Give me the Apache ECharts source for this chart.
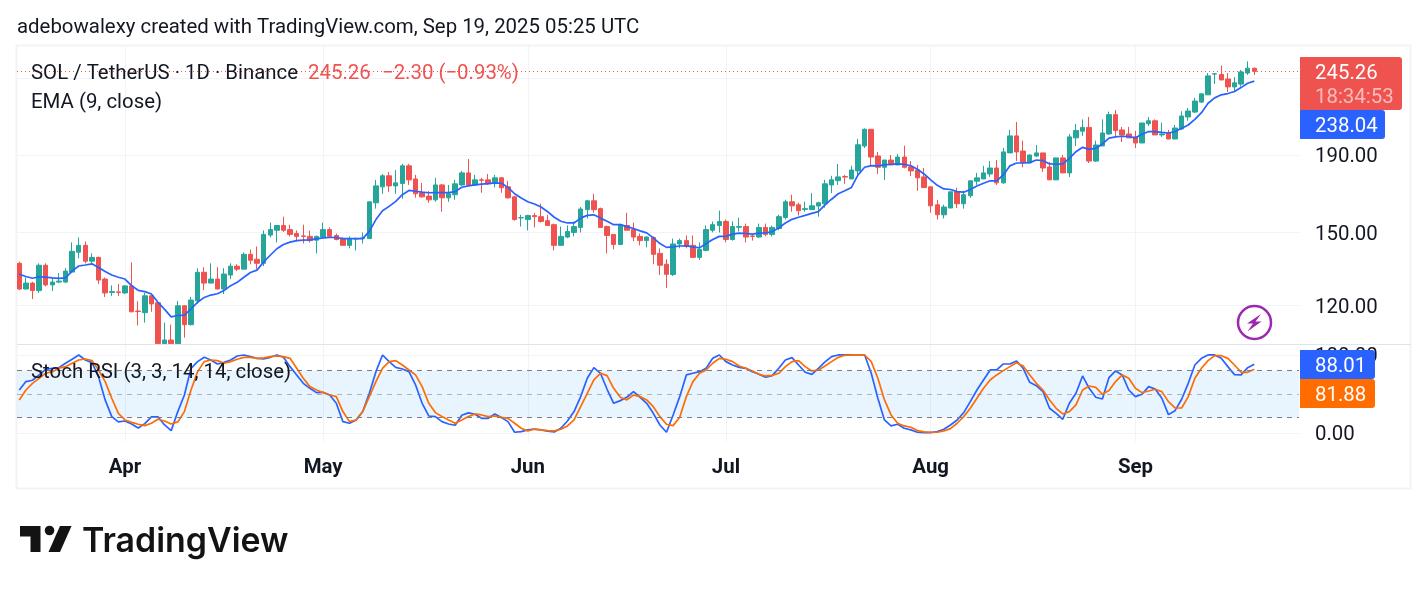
<!DOCTYPE html>
<html>
<head>
<meta charset="utf-8">
<style>html,body{margin:0;padding:0;background:#fff}#chart{width:1428px;height:591px}</style>
<script src="https://cdn.jsdelivr.net/npm/echarts@6/dist/echarts.min.js"></script>
</head>
<body>
<div id="chart"></div>
<script>
// SOL / TetherUS daily candles, 16 Mar 2025 (day 0) to 19 Sep 2025 (day 187)
const opens = [
136.5,126.2,128.5,125.6,135.7,127.8,128.9,128.9,132.9,141.2,
144.2,137.4,139.0,130.1,124.9,125.1,124.7,127.4,118.0,117.4,
123.6,121.0,106.8,108.0,106.8,119.9,113.2,121.7,132.8,128.5,
130.1,126.2,131.7,135.3,134.1,140.3,138.2,136.5,148.8,151.0,
153.2,151.3,149.5,148.4,148.2,146.5,147.9,151.3,148.6,147.2,
144.2,147.0,147.2,147.2,164.2,172.4,178.3,172.9,174.2,183.8,
176.6,169.3,167.6,165.7,173.4,166.7,168.3,173.4,179.9,173.4,
176.1,176.1,174.5,177.2,172.4,167.2,156.8,156.0,157.9,157.4,
155.5,153.6,144.2,147.9,150.0,152.3,160.8,165.2,161.3,152.7,
149.1,144.6,153.2,151.3,148.2,146.3,147.7,140.7,136.1,131.9,
144.8,146.3,144.2,139.0,142.0,151.0,153.2,155.1,146.8,152.4,
152.7,148.4,147.9,152.3,149.1,151.8,157.0,164.7,163.2,160.9,
160.8,162.6,163.7,173.4,175.7,177.9,176.6,181.0,195.3,205.5,
189.4,183.0,187.1,184.3,188.8,183.2,181.5,177.7,172.4,163.2,
158.3,161.6,169.8,163.7,167.8,175.4,176.6,179.3,182.6,174.5,
191.2,201.4,192.3,185.5,189.4,191.2,183.2,176.1,188.3,179.9,
200.2,204.3,206.7,186.5,195.3,202.6,214.9,205.1,202.6,200.8,
197.1,209.0,210.9,202.0,203.2,199.5,205.7,213.4,216.6,223.3,
228.3,243.2,243.0,239.6,233.9,235.9,244.0,247.56];

const closes = [
126.2,128.5,125.6,135.7,127.8,128.9,129.3,133.3,141.6,144.2,
137.4,139.0,129.7,124.7,125.2,124.9,127.4,117.7,117.8,123.6,
120.6,106.8,108.0,106.8,119.9,113.2,122.0,132.8,128.5,130.1,
126.2,132.1,135.3,134.1,140.3,137.8,136.5,149.1,151.3,153.2,
151.0,149.1,148.2,148.2,146.3,148.2,151.3,148.2,146.8,144.2,
147.2,147.2,147.5,164.7,172.9,178.3,172.9,174.5,183.8,176.1,
168.8,167.2,165.7,173.4,166.7,168.8,174.0,179.9,173.4,176.1,
175.9,174.0,177.2,171.9,166.7,156.0,156.9,157.9,157.4,155.1,
153.2,144.2,148.2,150.4,152.7,161.1,165.2,160.8,152.3,148.6,
144.6,153.6,151.0,147.9,146.3,147.9,140.3,135.7,132.0,144.8,
146.3,143.7,139.0,142.4,151.3,153.6,155.1,146.8,152.7,152.7,
147.9,148.2,152.3,149.1,152.3,157.4,164.7,162.7,160.3,161.3,
162.7,164.2,174.0,176.1,177.7,177.6,181.5,196.0,205.5,188.8,
183.0,187.1,184.3,188.8,183.0,181.0,177.2,172.0,162.7,158.3,
162.1,169.8,163.7,168.3,175.6,177.2,179.9,182.6,174.5,191.8,
201.4,191.8,185.5,190.0,191.2,182.6,176.1,188.3,179.9,200.8,
204.7,206.7,186.5,195.9,203.2,214.9,204.7,202.0,200.2,197.1,
209.5,210.9,202.0,202.6,199.5,206.3,214.0,217.3,224.0,229.0,
241.9,243.5,238.9,233.9,236.8,244.8,247.6,245.26];

const lows = [
125.8,126.2,122.4,124.7,127.2,125.4,128.5,128.5,132.4,138.6,
136.5,136.5,128.2,123.2,123.6,123.6,124.3,117.7,112.9,113.9,
117.7,106.8,106.8,106.8,106.8,108.8,112.9,120.6,125.8,128.5,
126.2,124.3,130.1,133.3,134.1,136.1,134.1,135.3,147.7,145.5,
150.3,148.2,145.9,145.0,145.5,140.7,147.9,147.9,146.4,144.2,
142.9,142.0,145.0,147.2,161.3,168.8,169.8,168.8,166.2,173.4,
166.8,166.8,164.2,164.7,159.8,164.7,165.7,172.9,172.9,172.9,
169.3,173.4,172.1,169.3,166.2,155.5,152.7,150.9,152.3,154.6,
153.2,142.0,144.2,147.4,148.2,150.0,156.5,159.3,152.3,140.7,
142.4,144.6,151.0,146.0,144.2,143.3,136.1,131.7,126.6,131.3,
142.9,142.9,139.0,137.9,141.6,150.0,150.0,145.5,146.3,150.4,
145.5,146.3,147.4,148.2,148.2,151.0,156.0,159.8,157.9,159.8,
160.8,157.4,161.8,169.1,173.4,174.0,176.6,177.7,194.1,184.3,
179.3,176.1,184.3,184.3,182.4,178.1,170.3,172.0,159.3,156.0,
156.5,161.6,161.6,161.3,166.7,173.4,176.6,177.7,173.4,174.0,
191.2,186.5,183.0,185.5,188.8,180.4,176.1,176.1,179.9,177.7,
195.3,201.4,185.4,186.0,195.3,202.0,200.4,197.7,200.2,194.1,
197.1,207.6,202.0,200.8,199.5,199.5,205.1,210.9,216.0,222.7,
228.3,236.0,238.9,230.3,231.0,234.1,242.6,242.6];

const highs = [
137.2,130.7,129.0,136.5,136.5,130.7,132.5,134.5,145.5,147.7,
145.9,140.7,139.3,130.7,127.6,128.2,127.7,136.9,121.6,124.7,
123.9,121.0,113.9,113.2,121.7,120.2,123.2,134.4,134.9,136.5,
134.9,134.5,136.5,136.1,141.1,142.4,143.7,150.9,154.6,153.2,
157.4,153.6,150.9,153.6,150.9,148.6,154.6,152.3,149.5,147.7,
148.2,147.7,150.0,164.7,176.1,179.3,180.4,181.5,184.9,184.9,
178.8,174.5,170.2,177.2,174.0,173.4,176.1,181.0,187.7,178.8,
177.2,179.3,178.8,177.7,175.6,167.7,158.3,158.3,159.3,163.8,
158.3,154.1,152.7,153.2,155.1,162.1,165.7,168.8,161.8,153.2,
149.1,154.1,159.3,154.6,149.5,148.2,148.2,142.9,138.2,147.2,
147.2,148.6,148.6,145.5,153.2,155.1,160.3,156.0,155.1,156.9,
154.1,149.1,154.1,154.1,153.2,158.3,165.7,168.3,164.2,164.7,
169.1,164.7,176.1,178.3,184.9,178.8,183.8,199.5,206.1,205.5,
191.8,187.1,190.0,190.6,195.5,186.5,184.3,182.6,172.4,165.7,
163.2,169.8,171.9,170.3,175.6,179.9,183.8,186.5,187.1,194.1,
205.1,210.1,198.5,190.4,195.9,191.2,186.0,188.3,190.0,202.6,
208.9,211.8,213.4,198.5,211.8,216.9,218.0,207.0,207.0,204.5,
209.5,213.4,211.8,209.7,205.1,208.2,217.1,219.3,226.2,229.0,
244.0,244.0,249.6,244.0,241.0,246.3,252.9,248.3];

const emaValues = [
132.0,131.1,130.4,131.0,130.9,130.6,130.4,130.6,133.4,135.4,
135.8,136.3,134.8,133.1,131.7,130.8,130.1,127.5,125.7,125.2,
124.3,121.2,118.6,115.9,116.4,116.5,118.8,121.2,123.0,123.9,
124.4,125.6,127.5,128.8,130.8,132.7,133.7,137.1,139.9,142.7,
144.6,145.6,146.3,146.5,146.6,147.1,147.5,147.7,147.7,147.2,
147.2,147.2,147.2,150.5,156.0,160.3,162.4,164.9,168.3,170.5,
170.1,169.6,169.3,169.4,169.4,169.4,169.9,172.2,172.9,173.4,
173.8,174.1,174.5,174.3,172.1,168.8,166.6,164.7,163.6,162.1,
159.8,157.1,155.2,154.4,154.4,156.7,158.0,158.3,156.7,155.2,
153.6,153.6,152.7,151.8,150.7,149.8,147.5,145.0,143.3,143.5,
143.9,144.0,143.5,143.1,145.0,146.8,148.2,148.2,149.2,149.7,
149.5,149.2,149.7,149.8,150.3,152.1,154.4,156.1,157.1,158.0,
159.0,159.8,163.2,166.0,168.8,170.3,172.1,178.8,183.0,183.9,
183.8,184.3,184.7,184.9,184.7,183.8,181.9,179.3,176.1,173.2,
171.3,171.0,169.9,169.6,171.0,172.8,174.3,175.6,175.6,178.8,
183.8,185.4,185.4,185.6,187.1,186.8,184.9,184.7,184.9,188.1,
191.9,194.5,193.3,193.9,196.5,200.0,200.8,201.2,201.0,200.2,
202.4,204.1,204.1,203.6,203.2,204.1,206.2,208.2,211.8,216.2,
222.5,226.2,228.3,229.2,230.6,233.4,236.5,238.04];

const stochK = [
55.3,66.0,67.7,74.5,81.7,83.0,83.8,89.4,94.5,100,
93.6,90.2,72.3,42.6,21.3,14.5,15.7,11.9,6.8,12.3,
20.9,20.9,10.6,3.4,27.7,48.9,83.0,91.5,97.0,93.6,
88.5,90.6,93.6,98.7,100,97.9,95.7,94.9,97.0,100,
97.0,85.1,74.5,63.8,57.4,51.9,52.3,48.9,38.3,14.9,
12.8,17.0,27.7,51.1,78.7,100,91.5,84.2,82.1,78.7,
61.7,38.3,22.1,21.3,14.9,11.9,10.2,23.0,26.0,24.3,
19.1,19.1,24.7,20.0,14.9,1.3,2.1,4.3,5.5,4.3,
2.6,1.7,6.4,15.7,27.7,46.8,70.2,83.8,76.6,56.2,
38.3,41.7,46.0,53.2,46.0,38.3,25.5,10.6,1.3,23.4,
46.8,74.5,76.6,78.7,83.0,95.7,100,91.5,87.2,84.2,
83.0,78.7,75.3,71.5,73.6,83.0,93.6,96.6,87.2,77.9,
75.3,83.0,91.1,97.9,100,100,100,100,100,76.6,
44.7,17.0,9.4,11.5,6.4,4.3,1.3,0.9,0.9,2.1,
5.1,10.6,17.0,26.4,40.4,55.3,68.1,80.9,80.9,88.5,
88.5,92.3,83.0,65.1,60.8,53.2,31.9,25.5,17.9,38.3,
51.1,73.2,57.4,46.0,43.8,71.1,79.6,74.5,55.3,46.8,
49.8,59.6,56.6,44.7,23.8,28.9,43.4,63.8,87.2,95.7,
100,100,95.7,85.1,74.9,74.5,83.8,88.01];

const stochD = [
42.6,55.3,63.8,70.2,76.6,78.7,83.0,85.1,89.4,93.6,
94.9,92.8,80.8,66.0,44.7,25.5,17.0,14.0,11.5,9.8,
12.8,17.9,15.7,11.9,14.5,27.7,55.3,78.7,91.5,93.6,
92.8,89.4,91.5,94.5,97.0,97.0,95.7,96.2,97.9,98.7,
97.9,95.7,83.0,70.2,59.6,55.3,51.9,48.9,46.8,27.7,
14.9,17.0,27.7,46.8,66.0,83.0,91.5,92.8,87.2,80.8,
74.5,59.6,38.3,26.4,21.3,17.0,12.8,17.0,21.3,24.7,
23.4,21.3,22.1,20.4,19.1,12.8,6.4,3.0,5.1,4.3,
3.4,3.0,5.1,9.4,17.0,34.0,51.1,68.1,76.6,73.6,
57.4,46.0,42.6,48.9,46.8,42.6,34.0,21.3,11.5,9.8,
20.4,46.8,66.0,76.6,80.8,89.4,95.7,94.5,91.5,86.0,
83.0,79.6,75.3,73.2,74.0,76.6,85.1,91.5,92.8,85.1,
79.6,80.8,86.0,91.5,97.0,99.6,100,100,100,91.5,
70.2,42.6,23.4,12.8,9.4,7.7,3.4,1.7,1.3,1.3,
3.0,6.0,12.8,21.3,31.9,44.7,57.4,68.1,74.5,80.0,
85.1,90.2,86.0,74.5,63.8,55.3,42.6,31.9,24.7,27.7,
36.2,55.3,60.4,58.7,49.8,54.5,66.0,74.5,70.2,57.4,
51.9,54.0,56.2,53.2,40.4,32.3,32.3,46.8,70.2,83.0,
92.8,99.1,99.1,95.7,87.2,77.9,77.9,81.88];

const priceTicks = [120, 150, 190, 240];
const stochTicks = [0, 100];
const stochLevels = [20, 50, 80];
const monthDays = [16, 46, 77, 107, 138, 169];
const monthNames = ['Apr', 'May', 'Jun', 'Jul', 'Aug', 'Sep'];

const lastPrice = closes[closes.length - 1];
const priceChange = lastPrice - opens[opens.length - 1];
const lastEma = emaValues[emaValues.length - 1];
const lastK = stochK[stochK.length - 1];
const lastD = stochD[stochD.length - 1];

const GREEN = '#26A69A', RED = '#EF5350', BLUE = '#2962FF', ORANGE = '#FF6D00';
const INK = '#131722', GRID = '#F0F3FA', FONT = 'Roboto', TEXT_SIZE = 20.4;
const LINE_WIDTH = 1.7;

const pairs = arr => arr.map((v, i) => [i, v]);
const candles = opens.map((o, i) => [i, o, closes[i], lows[i], highs[i]]);

// Canvas middle-alignment sits high for this font, so text is nudged down.
const text = (x, y, str, fill) => ({
  type: 'text', x, y: y + 2, z: 50, silent: true,
  style: { text: str, font: TEXT_SIZE + 'px ' + FONT, fill, textVerticalAlign: 'middle' }
});
const tag = (x, y, w, h, fill, r) => ({
  type: 'rect', z: 40, silent: true, shape: { x, y, width: w, height: h, r },
  style: { fill }
});
const bandX = { min: -0.348, max: 193.77 };
const xAxisBase = Object.assign({
  type: 'value',
  axisLine: { show: false },
  axisTick: { show: false },
  splitLine: { show: true, lineStyle: { color: GRID, width: 1 } }
}, bandX);
// Top-aligned with a short line box: the digits sit centred just under each tick.
const scaleLabel = ticks => ({
  customValues: ticks, margin: 16, align: 'left', verticalAlign: 'top', lineHeight: 4,
  fontFamily: FONT, fontSize: TEXT_SIZE, color: INK,
  formatter: v => Number(v).toFixed(2)
});

const chart = echarts.init(document.getElementById('chart'), null, { renderer: 'canvas' });
chart.setOption({
  animation: false,
  backgroundColor: '#ffffff',
  grid: [
    { left: 17, top: 46, width: 1282, height: 298 },
    { left: 17, top: 345.5, width: 1282, height: 96 }
  ],
  xAxis: [
    Object.assign({}, xAxisBase, {
      gridIndex: 0,
      axisLabel: { show: false, customValues: monthDays },
      axisTick: { show: false, customValues: monthDays }
    }),
    Object.assign({}, xAxisBase, {
      gridIndex: 1,
      axisLabel: {
        customValues: monthDays,
        margin: 16,
        fontFamily: FONT, fontSize: TEXT_SIZE, fontWeight: 700, color: INK,
        formatter: v => monthNames[monthDays.indexOf(Math.round(v))] || ''
      },
      axisTick: { show: false, customValues: monthDays }
    })
  ],
  yAxis: [
    {
      gridIndex: 0, type: 'log', position: 'right', min: 106.7, max: 265,
      axisLine: { show: false }, axisTick: { show: false, customValues: priceTicks },
      axisLabel: scaleLabel(priceTicks),
      splitLine: { show: true, lineStyle: { color: GRID, width: 1 } }
    },
    {
      gridIndex: 1, type: 'value', position: 'right', min: -10.5, max: 112.1,
      axisLine: { show: false }, axisTick: { show: false, customValues: stochTicks },
      axisLabel: scaleLabel(stochTicks),
      splitLine: { show: true, lineStyle: { color: GRID, width: 1 } }
    }
  ],
  series: [
    {
      name: 'SOL / TetherUS', type: 'candlestick', xAxisIndex: 0, yAxisIndex: 0,
      data: candles, barWidth: 5, encode: { x: 0, y: [1, 2, 3, 4] },
      itemStyle: { color: GREEN, color0: RED, borderColor: GREEN, borderColor0: RED, borderWidth: 1 },
      markLine: {
        silent: true, symbol: 'none', animation: false, label: { show: false },
        lineStyle: { color: RED, type: [1, 3], width: 1 },
        data: [{ yAxis: lastPrice }]
      }
    },
    {
      name: 'EMA (9, close)', type: 'line', xAxisIndex: 0, yAxisIndex: 0,
      data: pairs(emaValues), showSymbol: false, silent: true,
      lineStyle: { color: BLUE, width: LINE_WIDTH }
    },
    {
      name: '%K', type: 'line', xAxisIndex: 1, yAxisIndex: 1,
      data: pairs(stochK), showSymbol: false, silent: true, z: 3,
      lineStyle: { color: BLUE, width: LINE_WIDTH },
      markArea: {
        silent: true, animation: false,
        itemStyle: { color: 'rgba(33,150,243,0.1)' },
        data: [[{ yAxis: stochLevels[0] }, { yAxis: stochLevels[2] }]]
      },
      markLine: {
        silent: true, symbol: 'none', animation: false, label: { show: false },
        data: [
          { yAxis: stochLevels[0], lineStyle: { color: '#787B86', type: [5, 5], width: 1 } },
          { yAxis: stochLevels[1], lineStyle: { color: 'rgba(120,123,134,0.55)', type: [5, 5], width: 1 } },
          { yAxis: stochLevels[2], lineStyle: { color: '#787B86', type: [5, 5], width: 1 } }
        ]
      }
    },
    {
      name: '%D', type: 'line', xAxisIndex: 1, yAxisIndex: 1,
      data: pairs(stochD), showSymbol: false, silent: true, z: 4,
      lineStyle: { color: ORANGE, width: LINE_WIDTH }
    }
  ],
  graphic: [
    // frame and pane divider
    { type: 'rect', z: 1, silent: true, shape: { x: 16.5, y: 45.5, width: 1394, height: 443 },
      style: { fill: 'none', stroke: '#F3F3F5', lineWidth: 2 } },
    { type: 'line', z: 30, silent: true, shape: { x1: 17, y1: 344.5, x2: 1411, y2: 344.5 },
      style: { stroke: '#E0E3EB', lineWidth: 1 } },

    // header and legends
    text(17, 26, 'adebowalexy created with TradingView.com, Sep 19, 2025 05:25 UTC', INK),
    text(31, 72, 'SOL / TetherUS · 1D · Binance', INK),
    text(308, 72, lastPrice.toFixed(2), RED),
    text(382, 72, '\u2212' + Math.abs(priceChange).toFixed(2) + ' (\u2212' + (Math.abs(priceChange) / (lastPrice - priceChange) * 100).toFixed(2) + '%)', RED),
    text(31, 101, 'EMA (9, close)', INK),
    text(31, 371, 'Stoch RSI (3, 3, 14, 14, close)', INK),

    // last-value tags on the price scale
    tag(1300, 57, 102, 53, RED, [0, 3, 3, 0]),
    text(1315, 72, lastPrice.toFixed(2), '#ffffff'),
    text(1315, 96, '18:34:53', 'rgba(255,255,255,0.6)'),
    tag(1300, 110, 85, 29, BLUE, [0, 3, 3, 0]),
    text(1315, 124.5, lastEma.toFixed(2), '#ffffff'),
    tag(1300, 350, 75, 29, BLUE, [0, 3, 3, 0]),
    text(1315, 365, lastK.toFixed(2), '#ffffff'),
    tag(1300, 379, 75, 29, ORANGE, [0, 3, 3, 0]),
    text(1315, 393.5, lastD.toFixed(2), '#ffffff'),

    // lightning badge
    { type: 'circle', z: 40, silent: true, shape: { cx: 1254.5, cy: 322.5, r: 16.5 },
      style: { fill: '#ffffff', stroke: '#9C27B0', lineWidth: 2.5 } },
    { type: 'polygon', z: 41, silent: true,
      shape: { points: [[1261, 314], [1247, 323.5], [1253, 323.5], [1247.5, 331.5], [1261.5, 321.5], [1255.5, 321.5]] },
      style: { fill: '#9C27B0' } },

    // brand mark
    { type: 'polygon', z: 40, silent: true,
      shape: { points: [[20, 526], [40.5, 526], [40.5, 552], [30.5, 552], [30.5, 536.5], [20, 536.5]] },
      style: { fill: '#131313' } },
    { type: 'circle', z: 40, silent: true, shape: { cx: 49.5, cy: 530.5, r: 4.8 }, style: { fill: '#131313' } },
    { type: 'polygon', z: 40, silent: true,
      shape: { points: [[60, 526], [71.5, 526], [60, 552], [48.5, 552]] },
      style: { fill: '#131313' } },
    { type: 'text', z: 40, silent: true, x: 82, y: 542,
      style: { text: 'TradingView', font: '600 33.9px Inter', fill: '#131313', textVerticalAlign: 'middle' } }
  ]
});
</script>
</body>
</html>
